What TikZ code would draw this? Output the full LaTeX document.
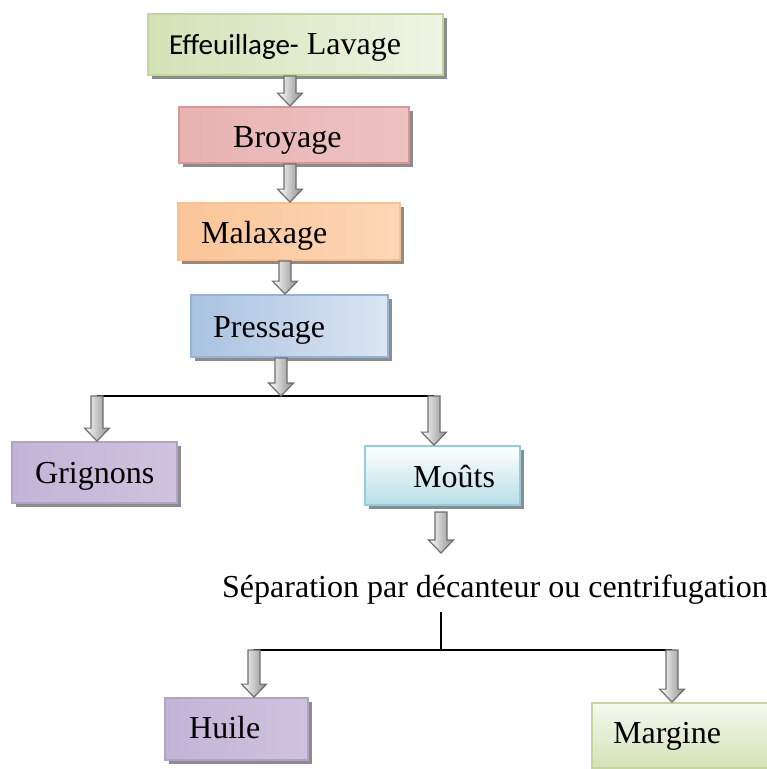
\documentclass[tikz,border=0pt]{standalone}
\usepackage{fontspec}
\setmainfont{Liberation Serif}
\newfontfamily\calib{Carlito}
\usetikzlibrary{shadows,calc}
\definecolor{gD}{HTML}{C3D69B}
\definecolor{gL}{HTML}{D3E2B6}
\definecolor{gW}{HTML}{EEF4E4}
\definecolor{rD}{HTML}{D99694}
\definecolor{rL}{HTML}{E8B3B2}
\definecolor{rW}{HTML}{F5DEDE}
\definecolor{oD}{HTML}{FAC090}
\definecolor{oL}{HTML}{FBC597}
\definecolor{oW}{HTML}{FDE6D3}
\definecolor{bD}{HTML}{95B3D7}
\definecolor{bL}{HTML}{A9C2E1}
\definecolor{bW}{HTML}{DCE6F2}
\definecolor{pD}{HTML}{B3A2C7}
\definecolor{pL}{HTML}{C2B4D6}
\definecolor{pW}{HTML}{E9E4EF}
\definecolor{cD}{HTML}{93CDDD}
\definecolor{cL}{HTML}{B7DEE8}
\definecolor{arrD}{HTML}{6E6E6E}
\definecolor{arrL}{HTML}{8C8C8C}
\tikzset{
  box/.style={rectangle, inner sep=0pt, line width=1.8pt,
    general shadow={fill=black!45, shadow xshift=4pt, shadow yshift=-4pt}},
  greenbox/.style={box, draw=gD, left color=gL, right color=gW},
  redbox/.style={box, draw=rD, left color=rL, middle color=rW, right color=rL!80!white},
  orangebox/.style={box, draw=oD, left color=oL, middle color=oW, right color=oL!70!white},
  bluebox/.style={box, draw=bD, left color=bL, right color=bW},
  purplebox/.style={box, draw=pD, left color=pL, middle color=pW, right color=pL!80!white},
  cyanbox/.style={box, draw=cD, top color=white, bottom color=cL},
  lgreenbox/.style={box, draw=gD, top color=gW!60!white, bottom color=gL},
  lbl/.style={inner sep=0pt, anchor=base west, font=\fontsize{32}{38}\selectfont},
  joinline/.style={draw=black, line width=1.5pt},
  blockarrow/.style={draw=arrD, line width=1.2pt, left color=white, right color=arrL},
}
\newcommand{\barrow}[2]{%
  \path[blockarrow] let \p1=(#1), \p2=(#2) in
    (\x1-6pt,\y1) -- (\x1+6pt,\y1) -- (\x1+6pt,\y2+13pt) -- (\x1+12.5pt,\y2+13pt)
    -- (\x1,\y2) -- (\x1-12.5pt,\y2+13pt) -- (\x1-6pt,\y2+13pt) -- cycle;}
\begin{document}
\begin{tikzpicture}[x=1pt,y=-1pt]
\useasboundingbox (0,0) rectangle (767,769);
% boxes
\node[greenbox, minimum width=295pt, minimum height=61pt] (eff) at (295.5,44.5) {};
\node[redbox, minimum width=230pt, minimum height=56pt] (broy) at (294,135) {};
\node[orangebox, minimum width=222pt, minimum height=57pt] (mal) at (289,231.5) {};
\node[bluebox, minimum width=197pt, minimum height=62pt] (pres) at (289.5,326) {};
\node[purplebox, minimum width=165pt, minimum height=61pt] (gri) at (94.5,472.5) {};
\node[cyanbox, minimum width=155pt, minimum height=59pt] (mou) at (442.5,475.5) {};
\node[purplebox, minimum width=143pt, minimum height=62pt] (hui) at (236.5,729) {};
\node[lgreenbox, minimum width=180pt, minimum height=65pt] (mar) at (682,735.5) {};
% labels
\node[lbl] (effT) at (169,54) {{\calib\fontsize{29}{35}\selectfont Effeuillage-} Lavage};
\node[lbl] (broyT) at (233,147) {Broyage};
\node[lbl] (malT) at (201,243) {Malaxage};
\node[lbl] (presT) at (213,337) {Pressage};
\node[lbl] (griT) at (35,483) {Grignons};
\node[lbl] (mouT) at (413,487) {Moûts};
\node[lbl] (sep) at (222,597) {Séparation par décanteur ou centrifugation};
\node[lbl] (huiT) at (189,738) {Huile};
\node[lbl] (marT) at (613,743) {Margine};
% junction coordinates
\coordinate (j1) at (281,396);
\coordinate (lj) at (97,396);
\coordinate (rj) at (434,396);
\coordinate (ms) at (441,512);
\coordinate (me) at (441,553);
\coordinate (v1) at (441,612);
\coordinate (v2) at (441,650);
\coordinate (hl) at (254,650);
\coordinate (hr) at (672,650);
% lines
\draw[joinline] (lj) -- (rj);
\draw[joinline] (v1) -- (v2);
\draw[joinline] (hl) -- (hr);
% block arrows
\barrow{$(eff.south)+(-5.5,0)$}{broy.north}
\barrow{$(broy.south)+(-4,0)$}{mal.north}
\barrow{$(mal.south)+(-4,0)$}{pres.north}
\barrow{$(pres.south)+(-8.5,0)$}{j1}
\barrow{lj}{gri.north}
\barrow{rj}{mou.north}
\barrow{ms}{me}
\barrow{hl}{hui.north}
\barrow{hr}{mar.north}
\end{tikzpicture}
\end{document}
